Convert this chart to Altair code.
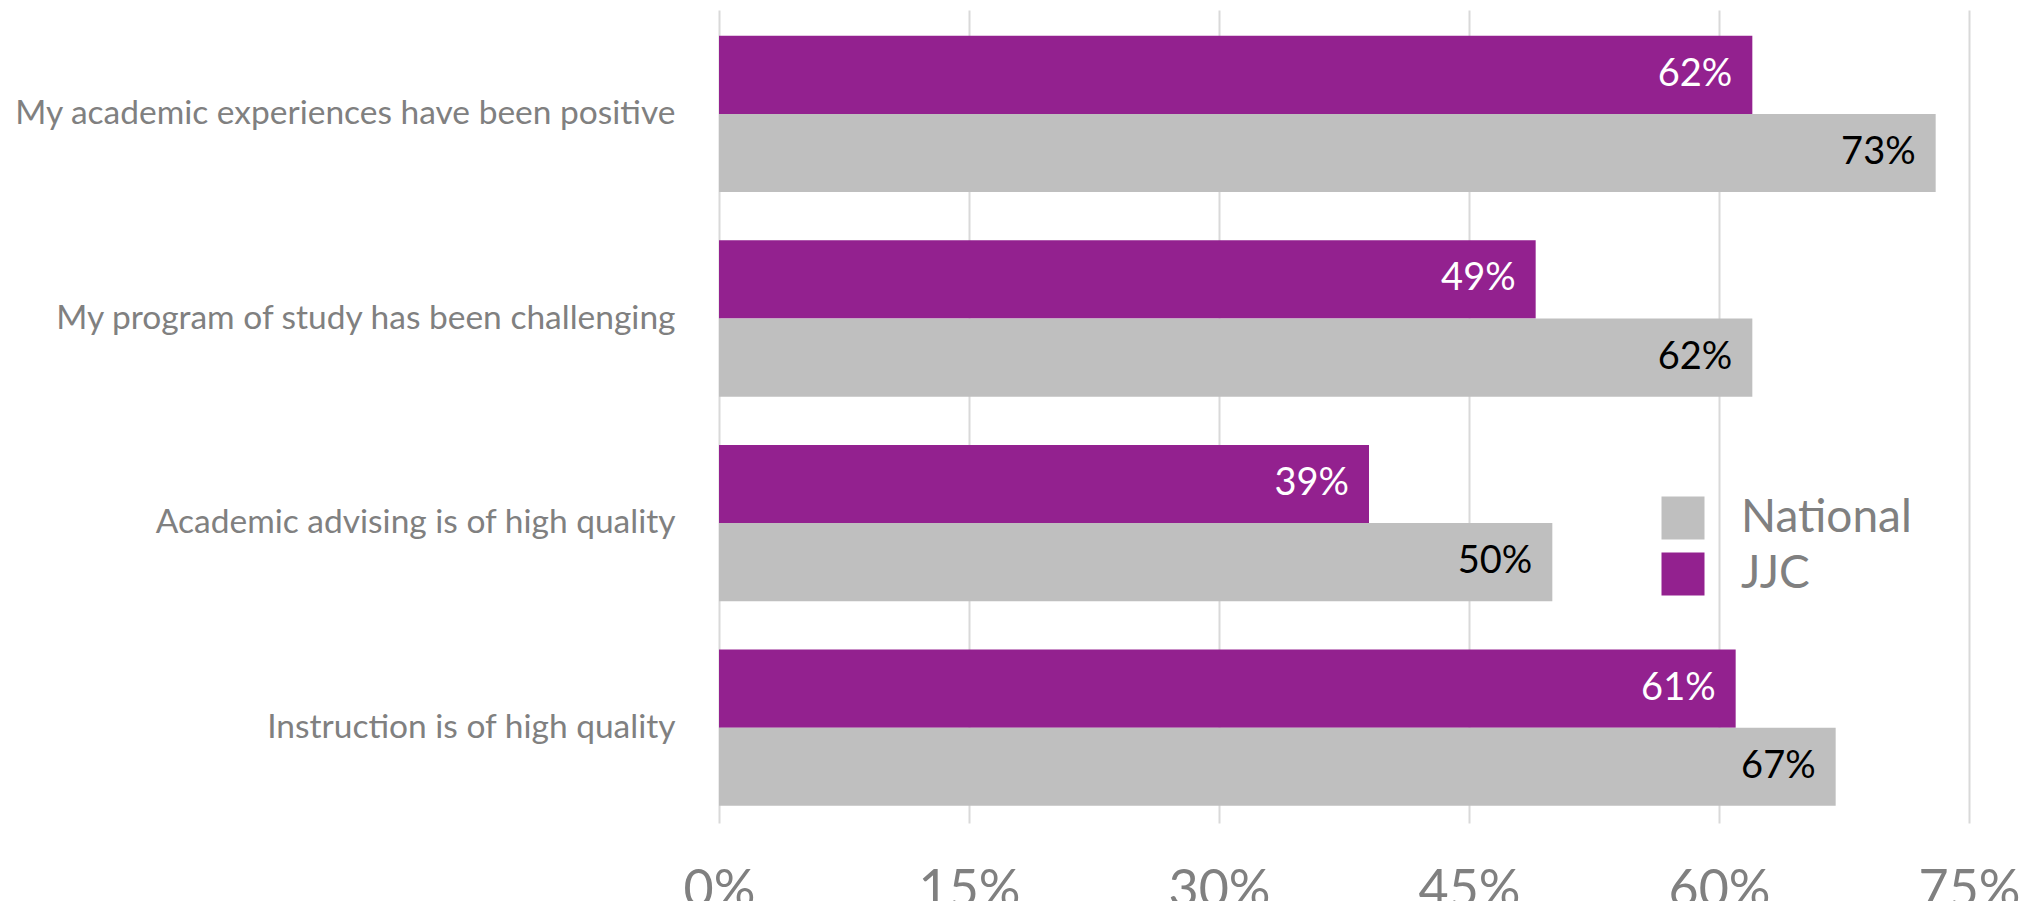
import altair as alt
import pandas as pd

categories = [
    "My academic experiences have been positive",
    "My program of study has been challenging",
    "Academic advising is of high quality",
    "Instruction is of high quality",
]
jjc = [62, 49, 39, 61]
national = [73, 62, 50, 67]
series_names = ["National", "JJC"]
x_ticks = [0, 15, 30, 45, 60, 75]

rows = []
for c, j, n in zip(categories, jjc, national):
    rows.append({"category": c, "series": "JJC", "value": j, "label": f"{j}%"})
    rows.append({"category": c, "series": "National", "value": n, "label": f"{n}%"})
df = pd.DataFrame(rows)

FONT = "Lato"
PURPLE = "#93218F"
GRAY = "#BFBFBF"

y_enc = alt.Y(
    "category:N",
    sort=categories,
    scale=alt.Scale(paddingInner=0.236, paddingOuter=0.105, align=0.6),
    axis=alt.Axis(
        title=None, domain=False, ticks=False, labelPadding=44,
        labelFontSize=33.5, labelColor="#808080", labelFont=FONT, labelLimit=1200,
    ),
)
yoff = alt.YOffset("series:N", sort=["JJC", "National"], scale=alt.Scale(paddingInner=0, paddingOuter=0))
x_enc = alt.X(
    "value:Q",
    scale=alt.Scale(domain=[0, 75], nice=False),
    axis=alt.Axis(
        title=None, values=x_ticks, labelExpr="datum.value + '%'",
        domain=False, ticks=False, grid=True, gridColor="#D9D9D9", gridWidth=2,
        labelFontSize=52, labelColor="#808080", labelFont=FONT, labelPadding=42,
        labelBaseline="top", labelFlush=False, labelOverlap=False,
    ),
)

bars = alt.Chart(df).mark_bar().encode(
    x=x_enc,
    y=y_enc,
    yOffset=yoff,
    color=alt.Color(
        "series:N",
        scale=alt.Scale(domain=series_names, range=[GRAY, PURPLE]),
        legend=alt.Legend(
            title=None, orient="none", legendX=941, legendY=485,
            symbolType="square", symbolSize=1849, symbolStrokeWidth=0,
            labelFontSize=46, labelFont=FONT, labelColor="#808080",
            labelOffset=35, rowPadding=10, labelLimit=500,
        ),
    ),
)

text = alt.Chart(df).mark_text(align="right", baseline="middle", dx=-20, fontSize=38, font=FONT).encode(
    x="value:Q",
    y=alt.Y("category:N", sort=categories),
    yOffset=alt.YOffset("series:N", sort=["JJC", "National"]),
    text="label:N",
    color=alt.condition(alt.datum.series == "JJC", alt.value("white"), alt.value("black")),
)

chart = (
    alt.layer(bars, text)
    .properties(
        width=1250, height=813,
        autosize=alt.AutoSizeParams(type="none"),
        padding={"left": 711, "top": 2, "right": 65, "bottom": 78},
    )
    .configure_view(stroke=None)
)

chart.save("out.html", embed_options={"renderer": "svg", "actions": False})
